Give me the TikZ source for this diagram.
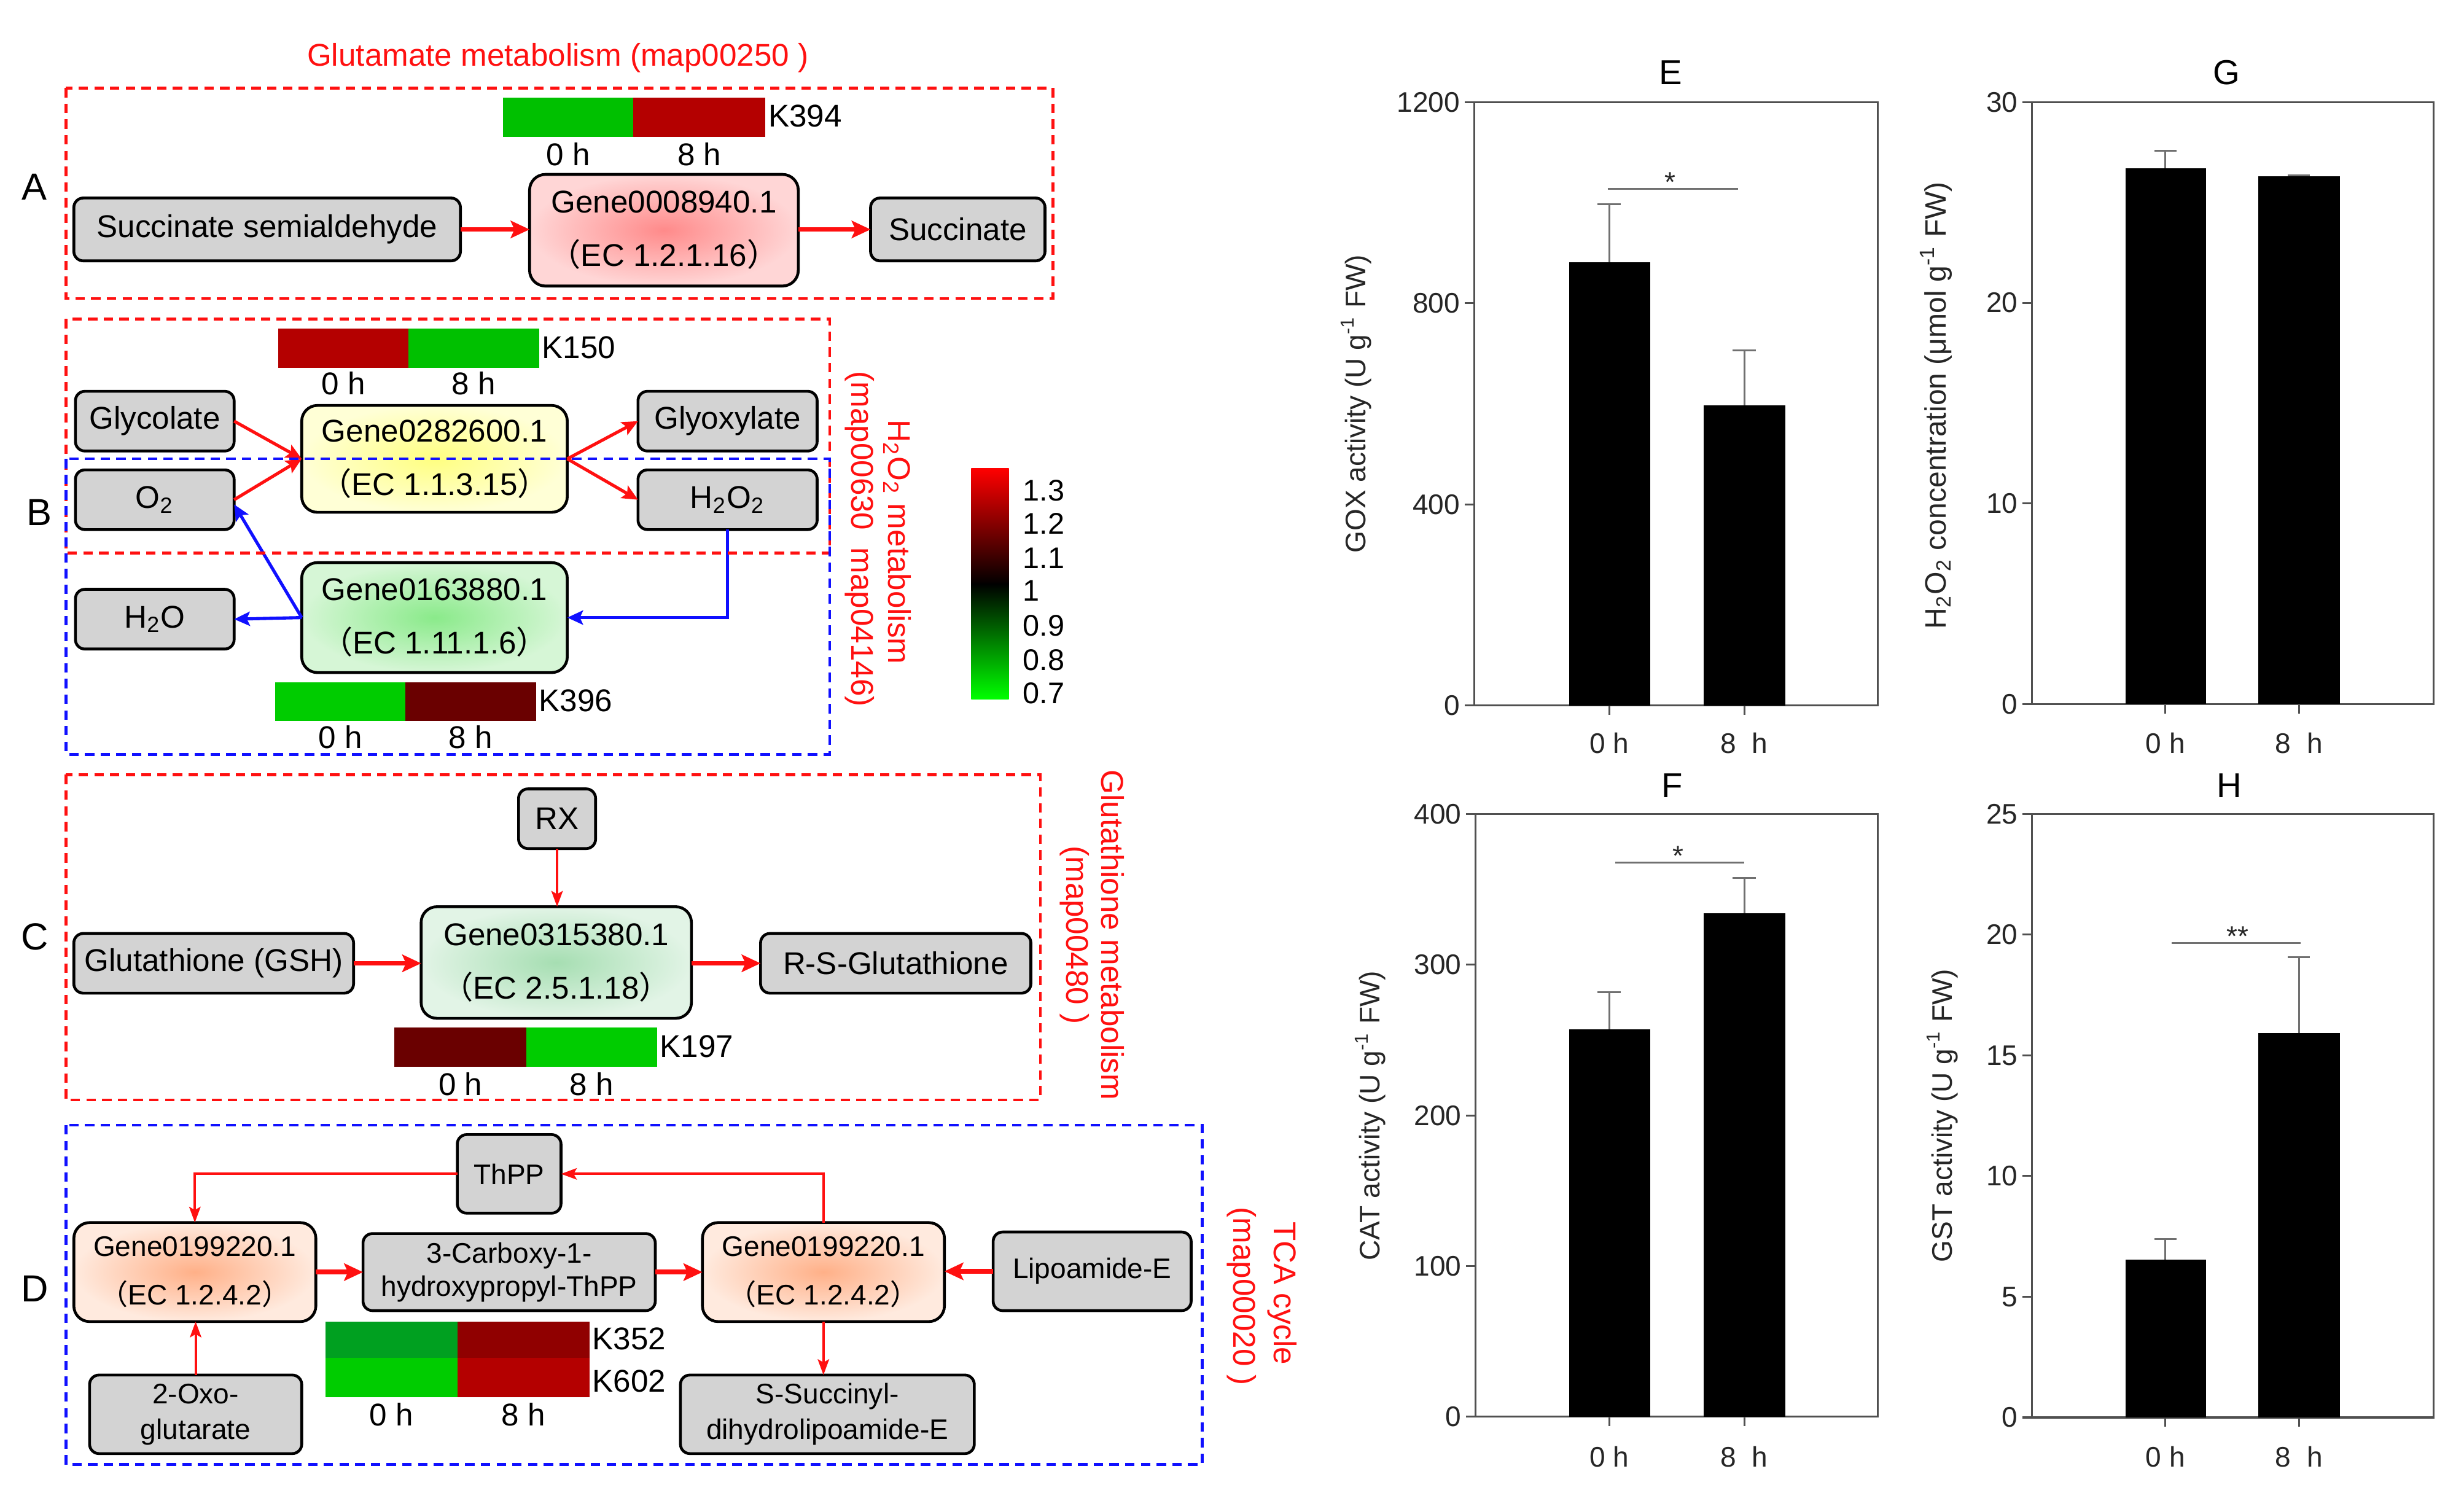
\documentclass[tikz,border=0pt]{standalone}
\usepackage{fontspec}
\setmainfont{Liberation Sans}
\newfontfamily\cjk{Noto Sans CJK SC}
\usetikzlibrary{arrows.meta,calc}
\definecolor{boxgray}{HTML}{D3D3D3}
\definecolor{pinkin}{HTML}{FF8A8A}
\definecolor{pinkout}{HTML}{FFD6D6}
\definecolor{yelin}{HTML}{FFFF80}
\definecolor{yelout}{HTML}{FFFFD6}
\definecolor{grnin}{HTML}{8AEA8A}
\definecolor{grnout}{HTML}{D6F6D6}
\definecolor{gcin}{HTML}{A6DEB2}
\definecolor{gcout}{HTML}{E2F4E6}
\definecolor{pchin}{HTML}{FFB088}
\definecolor{pchout}{HTML}{FFEADE}
\definecolor{hgreen}{HTML}{00C000}
\definecolor{hgreenb}{HTML}{00CC00}
\definecolor{hgreend}{HTML}{00A020}
\definecolor{hred}{HTML}{B40000}
\definecolor{hredd}{HTML}{6A0000}
\definecolor{hredm}{HTML}{900000}
\definecolor{axgray}{HTML}{505050}
\definecolor{ergray}{HTML}{707070}
\definecolor{myred}{HTML}{FF1010}
\definecolor{myblue}{HTML}{1010FF}
\definecolor{cbred}{HTML}{FF0000}
\definecolor{cbgreen}{HTML}{00FF00}
\begin{document}
\begin{tikzpicture}[x=0.5pt,y=-0.5pt,
  every node/.style={inner sep=0pt,outer sep=0pt},
  lbl/.style={font=\fontsize{10}{12}\selectfont},
  panel/.style={font=\fontsize{12}{14}\selectfont},
  redlbl/.style={text=myred,font=\fontsize{10}{12}\selectfont},
  gbox/.style={draw=black,line width=0.9pt,fill=boxgray,rounded corners=3pt,align=center,font=\fontsize{10}{12}\selectfont},
  dbox/.style={gbox,font=\fontsize{9}{11.3}\selectfont},
  genebox/.style={draw=black,line width=0.9pt,rounded corners=5pt,align=center,font=\fontsize{10}{12}\selectfont},
  pinkgene/.style={genebox,inner color=pinkin,outer color=pinkout},
  yelgene/.style={genebox,inner color=yelin,outer color=yelout},
  grngene/.style={genebox,inner color=grnin,outer color=grnout},
  gcgene/.style={genebox,inner color=gcin,outer color=gcout},
  pchgene/.style={genebox,inner color=pchin,outer color=pchout,font=\fontsize{9}{11}\selectfont},
  rdash/.style={draw=myred,line width=0.9pt,dash pattern=on 3pt off 2pt},
  bdash/.style={draw=myblue,line width=0.9pt,dash pattern=on 3pt off 2pt},
  rthick/.style={draw=myred,line width=1.5pt,-{Stealth[length=6pt,width=5.5pt,inset=1.2pt]}},
  rmid/.style={draw=myred,line width=1pt,-{Stealth[length=5pt,width=4.5pt,inset=1pt]}},
  rthin/.style={draw=myred,line width=0.8pt,-{Stealth[length=5pt,width=3.6pt,inset=1pt]}},
  bmid/.style={draw=myblue,line width=1pt,-{Stealth[length=5pt,width=4.5pt,inset=1pt]}},
  ax/.style={draw=axgray,line width=0.6pt},
  errb/.style={draw=ergray,line width=0.6pt},
  tk/.style={font=\fontsize{9}{11}\selectfont,text=black!85},
  ttl/.style={font=\fontsize{11}{13}\selectfont}
]
\useasboundingbox (0,0) rectangle (1568,955);
\fill[white] (0,0) rectangle (1568,955);

% ---------- Panel A ----------
\node[redlbl] (tA) at (355,37) {Glutamate metabolism (map00250 )};
\node[panel] (pA) at (22,119) {A};
\fill[hgreen] (320,62) rectangle (403,87);
\fill[hred] (403,62) rectangle (487,87);
\node[lbl,anchor=west] (k394) at (489,74) {K394};
\node[lbl] (a0) at (361.5,98) {0 h};
\node[lbl] (a8) at (445,98) {8 h};
\node[gbox,minimum width=123pt,minimum height=20pt] (ssa) at (170,146) {Succinate semialdehyde};
\node[pinkgene,minimum width=85.5pt,minimum height=35.5pt] (gA) at (422.5,146.5) {\raisebox{-1.5pt}{Gene0008940.1}\\[6.5pt]{\cjk （}EC 1.2.1.16{\cjk ）}};
\node[gbox,minimum width=55.5pt,minimum height=20pt] (succ) at (609.5,146) {Succinate};
\draw[rthick] (ssa.east) -- (ssa.east -| gA.west);
\draw[rthick] (gA.east |- succ.west) -- (succ.west);
\draw[rdash] (42,56) rectangle (670,190);

% ---------- Panel B ----------
\node[panel] (pB) at (25,326) {B};
\fill[hred] (177,209) rectangle (260,234);
\fill[hgreen] (260,209) rectangle (343,234);
\node[lbl,anchor=west] (k150) at (345,221) {K150};
\node[lbl] (b0) at (218.5,244) {0 h};
\node[lbl] (b8) at (301.5,244) {8 h};
\node[gbox,minimum width=50.5pt,minimum height=19pt] (glyc) at (98.5,268) {Glycolate};
\node[gbox,minimum width=50.5pt,minimum height=19pt] (o2) at (98.5,318) {O\textsubscript{2}};
\node[yelgene,minimum width=84.5pt,minimum height=34pt] (gB1) at (276.5,292) {\raisebox{-1.5pt}{Gene0282600.1}\\[6.5pt]{\cjk （}EC 1.1.3.15{\cjk ）}};
\node[gbox,minimum width=57pt,minimum height=19pt] (glyox) at (463,268) {Glyoxylate};
\node[gbox,minimum width=57pt,minimum height=19pt] (h2o2) at (463,318) {H\textsubscript{2}O\textsubscript{2}};
\node[grngene,minimum width=84.5pt,minimum height=35pt] (gB2) at (276.5,393) {\raisebox{-1.5pt}{Gene0163880.1}\\[6.5pt]{\cjk （}EC 1.11.1.6{\cjk ）}};
\node[gbox,minimum width=50.5pt,minimum height=19pt] (h2o) at (98.5,394) {H\textsubscript{2}O};
\fill[hgreenb] (175,434) rectangle (258,459);
\fill[hredd] (258,434) rectangle (341,459);
\node[lbl,anchor=west] (k396) at (343,446) {K396};
\node[lbl] (c0) at (216.5,469) {0 h};
\node[lbl] (c8) at (299.5,469) {8 h};
\draw[rmid] (glyc.east) -- (gB1.west);
\draw[rmid] (o2.east) -- (gB1.west);
\draw[rmid] (gB1.east) -- (glyox.west);
\draw[rmid] (gB1.east) -- (h2o2.west);
\draw[bmid] (h2o2.south) |- (gB2.east);
\draw[bmid] (gB2.west) -- (h2o.east);
\draw[bmid] (gB2.west) -- ($(o2.east)+(0,3)$);
\draw[rdash] (42,203) rectangle (528,352);
\draw[bdash] (42,292) rectangle (528,480);
\node[redlbl,rotate=-90] (tB1) at (571,345) {H\textsubscript{2}O\textsubscript{2} metabolism};
\node[redlbl,rotate=-90] (tB2) at (547,343) {(map00630\ \ map04146)};

% colour bar
\shade[top color=cbred,bottom color=black] (618,298) rectangle (642,372);
\shade[top color=black,bottom color=cbgreen] (618,371.5) rectangle (642,445);
\foreach \v/\y [count=\i] in {1.3/312,1.2/333,1.1/355,1/376,0.9/398,0.8/420,0.7/441}
  \node[anchor=west,font=\fontsize{9.5}{11}\selectfont] (cb\i) at (651,\y) {\v};

% ---------- Panel C ----------
\node[panel] (pC) at (22,596) {C};
\node[gbox,minimum width=24.5pt,minimum height=19pt] (rx) at (354.5,521) {RX};
\node[gcgene,minimum width=86pt,minimum height=35.5pt] (gC) at (354,612.5) {\raisebox{-1.5pt}{Gene0315380.1}\\[6.5pt]{\cjk （}EC 2.5.1.18{\cjk ）}};
\node[gbox,minimum width=89pt,minimum height=19pt] (gsh) at (136,613) {Glutathione (GSH)};
\node[gbox,minimum width=86pt,minimum height=19pt] (rsg) at (570,613) {R-S-Glutathione};
\draw[rthin] (rx.south) -- (rx.south |- gC.north);
\draw[rthick] (gsh.east) -- (gsh.east -| gC.west);
\draw[rthick] (gC.east |- rsg.west) -- (rsg.west);
\fill[hredd] (251,654) rectangle (335,679);
\fill[hgreenb] (335,654) rectangle (418,679);
\node[lbl,anchor=west] (k197) at (420,666) {K197};
\node[lbl] (d0) at (293,690) {0 h};
\node[lbl] (d8) at (376.5,690) {8 h};
\draw[rdash] (42,493) rectangle (662,700);
\node[redlbl,rotate=-90] (tC1) at (708,595) {Glutathione metabolism};
\node[redlbl,rotate=-90] (tC2) at (684,595) {(map00480 )};

% ---------- Panel D ----------
\node[panel] (pD) at (22,820) {D};
\node[dbox,minimum width=33pt,minimum height=25pt] (thpp) at (324,747) {ThPP};
\node[pchgene,minimum width=77pt,minimum height=31.5pt] (gD1) at (124,809.5) {\raisebox{-1pt}{Gene0199220.1}\\[5.5pt]{\cjk （}EC 1.2.4.2{\cjk ）}};
\node[dbox,minimum width=93pt,minimum height=24.5pt,font=\fontsize{9}{10.5}\selectfont] (carb) at (324,809.5) {3-Carboxy-1-\\hydroxypropyl-ThPP};
\node[pchgene,minimum width=77pt,minimum height=31.5pt] (gD2) at (524,809.5) {\raisebox{-1pt}{Gene0199220.1}\\[5.5pt]{\cjk （}EC 1.2.4.2{\cjk ）}};
\node[dbox,minimum width=63pt,minimum height=25pt] (lip) at (695,809) {Lipoamide-E};
\node[dbox,minimum width=67.5pt,minimum height=25pt] (oxo) at (124.5,900) {2-Oxo-\\glutarate};
\node[dbox,minimum width=93.5pt,minimum height=25pt] (ssd) at (526.5,900) {S-Succinyl-\\dihydrolipoamide-E};
\draw[rthin] (thpp.west) -| (gD1.north);
\draw[rthin] (gD2.north) |- (thpp.east);
\draw[rthick] (gD1.east) -- (carb.west);
\draw[rthick] (carb.east) -- (gD2.west);
\draw[rthick] (lip.west) -- (lip.west -| gD2.east);
\draw[rthin] (oxo.north) -- (oxo.north |- gD1.south);
\draw[rthin] (gD2.south) -- (gD2.south |- ssd.north);
\fill[hgreend] (207,841) rectangle (291,864);
\fill[hredm] (291,841) rectangle (375,864);
\fill[hgreenb] (207,864) rectangle (291,889);
\fill[hred] (291,864) rectangle (375,889);
\node[lbl,anchor=west] (k352) at (377,852) {K352};
\node[lbl,anchor=west] (k602) at (377,879) {K602};
\node[lbl] (e0) at (249,900) {0 h};
\node[lbl] (e8) at (333,900) {8 h};
\draw[bdash] (42,716) rectangle (765,932);
\node[redlbl,rotate=-90] (tD1) at (816,823) {TCA cycle};
\node[redlbl,rotate=-90] (tD2) at (790,825) {(map00020 )};

% ---------- Chart E ----------
\draw[ax] (938,65) rectangle (1195,449);
\foreach \v/\y in {0/449,400/321,800/193,1200/65}{
  \draw[ax] (938,\y) -- (932,\y);
  \node[tk,anchor=east] (eY\v) at (929,\y) {\v};}
\draw[ax] (1024,449) -- (1024,455);
\draw[ax] (1110,449) -- (1110,455);
\node[tk] (eX0) at (1024,473) {0 h};
\node[tk] (eX8) at (1110,473) {8\ \ h};
\fill[black] (998.5,449) rectangle (1050,167);
\fill[black] (1084,449) rectangle (1136,258);
\draw[errb] (1024,167) -- (1024,130) (1016.5,130) -- (1031.5,130);
\draw[errb] (1110,258) -- (1110,223) (1102.5,223) -- (1117.5,223);
\draw[errb] (1023,120) -- (1106,120);
\node[tk,anchor=base] (eS) at (1063,122) {*};
\node[ttl] (eT) at (1063,46) {E};
\node[tk,rotate=90] (eL) at (863,257) {GOX activity (U g\textsuperscript{-1} FW)};

% ---------- Chart F ----------
\draw[ax] (939,518) rectangle (1195,901.5);
\foreach \v/\y in {0/901.5,100/805.6,200/709.8,300/613.9,400/518}{
  \draw[ax] (939,\y) -- (933,\y);
  \node[tk,anchor=east] (fY\v) at (930,\y) {\v};}
\draw[ax] (1024,901.5) -- (1024,907.5);
\draw[ax] (1110,901.5) -- (1110,907.5);
\node[tk] (fX0) at (1024,927) {0 h};
\node[tk] (fX8) at (1110,927) {8\ \ h};
\fill[black] (998.5,901.5) rectangle (1050,655);
\fill[black] (1084,901.5) rectangle (1136,581);
\draw[errb] (1024,655) -- (1024,631.5) (1016.5,631.5) -- (1031.5,631.5);
\draw[errb] (1110,581) -- (1110,558.6) (1102.5,558.6) -- (1117.5,558.6);
\draw[errb] (1028,549) -- (1110,549);
\node[tk,anchor=base] (fS) at (1068,551) {*};
\node[ttl] (fT) at (1064,500) {F};
\node[tk,rotate=90] (fL) at (872,710) {CAT activity (U g\textsuperscript{-1} FW)};

% ---------- Chart G ----------
\draw[ax] (1293,65) rectangle (1548.5,448);
\foreach \v/\y in {0/448,10/320.3,20/192.7,30/65}{
  \draw[ax] (1293,\y) -- (1287,\y);
  \node[tk,anchor=east] (gY\v) at (1284,\y) {\v};}
\draw[ax] (1378,448) -- (1378,454);
\draw[ax] (1463,448) -- (1463,454);
\node[tk] (gX0) at (1378,473) {0 h};
\node[tk] (gX8) at (1463,473) {8\ \ h};
\fill[black] (1352.5,448) rectangle (1404,107);
\fill[black] (1437,448) rectangle (1489,112);
\draw[errb] (1378,107) -- (1378,96) (1371,96) -- (1385,96);
\draw[errb] (1456,111.5) -- (1470,111.5);
\node[ttl] (gT) at (1417,46) {G};
\node[tk,rotate=90,font=\fontsize{9.4}{11}\selectfont] (gL) at (1232,258) {H\textsubscript{2}O\textsubscript{2} concentration (μmol g\textsuperscript{-1} FW)};

% ---------- Chart H ----------
\draw[ax] (1293,518) rectangle (1548.5,902);
\foreach \v/\y in {0/902,5/825.2,10/748.4,15/671.6,20/594.8,25/518}{
  \draw[ax] (1293,\y) -- (1287,\y);
  \node[tk,anchor=east] (hY\v) at (1284,\y) {\v};}
\draw[ax] (1378,902) -- (1378,908);
\draw[ax] (1463,902) -- (1463,908);
\node[tk] (hX0) at (1378,927) {0 h};
\node[tk] (hX8) at (1463,927) {8\ \ h};
\fill[black] (1352.5,902) rectangle (1404,801.7);
\fill[black] (1437,902) rectangle (1489,657.4);
\draw[errb] (1378,801.7) -- (1378,788.6) (1371,788.6) -- (1385,788.6);
\draw[errb] (1463,657.4) -- (1463,609) (1456,609) -- (1470,609);
\draw[errb] (1382,600) -- (1464,600);
\node[tk,anchor=base] (hS) at (1424,602) {**};
\node[ttl] (hT) at (1418.5,500) {H};
\node[tk,rotate=90] (hL) at (1236,710) {GST activity (U g\textsuperscript{-1} FW)};
\end{tikzpicture}
\end{document}
